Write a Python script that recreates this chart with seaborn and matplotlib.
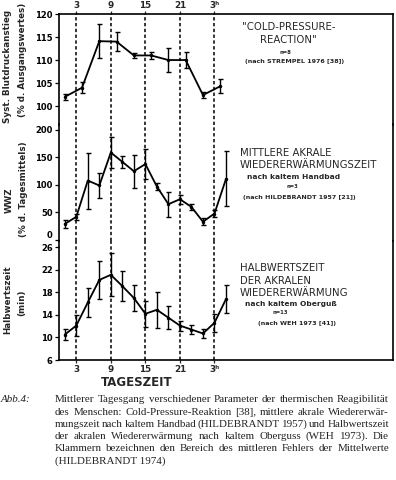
import matplotlib
matplotlib.use("Agg")
import matplotlib.pyplot as plt
import numpy as np
import pandas as pd
import seaborn as sns

# ---- data ----
hours_cpr = [1, 4, 7, 10, 13, 16, 19, 22, 25, 28]
cpr_mean = [102.0, 104.0, 114.1, 114.0, 111.0, 111.0, 110.0, 110.0, 102.4, 104.3]
cpr_err = [0.6, 1.2, 3.7, 2.0, 0.6, 0.8, 2.7, 1.7, 0.6, 1.5]

hours_wwz = [1, 3, 5, 7, 9, 11, 13, 15, 17, 19, 21, 23, 25, 27, 29]
wwz_mean = [29, 42, 108, 99, 159, 142, 125, 138, 97, 65, 74, 60, 33, 48, 111]
wwz_err = [8, 6, 51, 22, 28, 11, 30, 28, 7, 23, 8, 6, 6, 7, 50]

hours_hwz = [1, 3, 5, 7, 9, 11, 13, 15, 17, 19, 21, 23, 25, 27, 29]
hwz_mean = [10.5, 12.1, 16.2, 20.2, 21.1, 19.1, 17.0, 14.2, 14.9, 13.5, 12.1, 11.4, 10.7, 12.6, 16.8]
hwz_err = [1.0, 1.9, 2.6, 3.4, 3.8, 2.6, 2.35, 2.35, 3.15, 2.05, 0.9, 0.8, 0.75, 1.55, 2.55]

day_ticks = [3, 9, 15, 21, 27]
day_labels = ["3", "9", "15", "21", "3\u02b0"]

caption_lines = [
    "Mittlerer Tagesgang verschiedener Parameter der thermischen Reagibilität",
    "des Menschen: Cold-Pressure-Reaktion [38], mittlere akrale Wiedererwär-",
    "mungszeit nach kaltem Handbad (HILDEBRANDT 1957) und Halbwertszeit",
    "der akralen Wiedererwärmung nach kaltem Oberguss (WEH 1973). Die",
    "Klammern bezeichnen den Bereich des mittleren Fehlers der Mittelwerte",
    "(HILDEBRANDT 1974)",
]

W, H = 396, 480
sns.set_style("ticks")
plt.rcParams["font.family"] = ["DejaVu Sans"]

fig = plt.figure(figsize=(W / 100, H / 100), dpi=100)


def fx(px):
    return px / W


def fy(py):
    return 1 - py / H


def panel(top_px, bottom_px):
    return fig.add_axes([fx(59), fy(bottom_px), fx(393 - 59), (bottom_px - top_px) / H])


ax1 = panel(14, 124.5)
ax2 = panel(124.5, 241)
ax3 = panel(241, 360)

panels = [
    (ax1, hours_cpr, cpr_mean, cpr_err, (96, 120), [100, 105, 110, 115, 120]),
    (ax2, hours_wwz, wwz_mean, wwz_err, (-2, 210), [0, 50, 100, 150, 200]),
    (ax3, hours_hwz, hwz_mean, hwz_err, (6, 27.1), [6, 10, 14, 18, 22, 26]),
]

for ax, hrs, mean, err, ylim, yticks in panels:
    df = pd.DataFrame({"hour": hrs, "value": mean})
    for xv in day_ticks:
        ax.axvline(xv, color="black", lw=1.1, ls=(0, (2.2, 1.6)), zorder=1)
    sns.lineplot(data=df, x="hour", y="value", ax=ax, color="black", lw=1.3,
                 marker="o", markersize=2.5, markeredgewidth=0, zorder=3)
    ax.errorbar(hrs, mean, yerr=err, fmt="none", ecolor="black", elinewidth=1.0,
                capsize=1.8, capthick=1.0, zorder=3)
    ax.set_xlim(0, 58)
    ax.set_ylim(*ylim)
    ax.set_yticks(yticks)
    ax.set_xlabel("")
    ax.set_ylabel("")
    ax.set_facecolor("none")
    for s in ax.spines.values():
        s.set_linewidth(1.2)
        s.set_color("black")
    ax.spines["top"].set_visible(False)
    ax.spines["bottom"].set_visible(False)
    ax.tick_params(axis="y", direction="out", length=3, width=0.9, pad=1.5,
                   labelsize=6, colors="black")
    ax.tick_params(axis="x", bottom=False, top=False, labelbottom=False, labeltop=False)
    for lab in ax.get_yticklabels():
        lab.set_fontweight("bold")

ax1.spines["top"].set_visible(True)
ax3.spines["bottom"].set_visible(True)

# keep the "0" of the middle panel clear of the "26" below it
ax2.get_yticklabels()[0].set_va("bottom")

ax1.set_xticks(day_ticks, day_labels)
ax1.tick_params(axis="x", top=True, labeltop=True, direction="out", length=2,
                width=0.9, pad=1, labelsize=6.3)
ax3.set_xticks(day_ticks, day_labels)
ax3.tick_params(axis="x", bottom=True, labelbottom=True, direction="out", length=2,
                width=0.9, pad=1.5, labelsize=6.3)
for lab in ax1.get_xticklabels() + ax3.get_xticklabels():
    lab.set_fontweight("bold")

fig.text(fx(137), fy(382), "TAGESZEIT", ha="center", va="center",
         fontsize=8.5, fontweight="bold")

# y axis labels
lab_kw = dict(rotation=90, ha="center", va="center", fontsize=6.3, fontweight="bold")
fig.text(fx(8), fy(66), "Syst. Blutdruckanstieg", **lab_kw)
fig.text(fx(23), fy(60), "(% d. Ausgangswertes)", **lab_kw)
fig.text(fx(9), fy(200), "WWZ", **lab_kw)
fig.text(fx(24), fy(189), "(% d. Tagesmittels)", **lab_kw)
fig.text(fx(8), fy(300), "Halbwertszeit", **lab_kw)
fig.text(fx(22), fy(303), "(min)", **lab_kw)

# panel annotations
big = dict(fontsize=7.3, va="center")
small = dict(fontsize=5.4, va="center", fontweight="bold")
tiny = dict(fontsize=4.6, va="center", fontweight="bold")

fig.text(fx(289), fy(27), '"COLD-PRESSURE-', ha="center", **big)
fig.text(fx(288), fy(40), 'REACTION"', ha="center", **big)
fig.text(fx(285), fy(53), "n=8", ha="center", fontsize=3.8, fontweight="bold", va="center")
fig.text(fx(295), fy(62), "(nach STREMPEL 1976 [38])", ha="center", **tiny)

fig.text(fx(240), fy(153), "MITTLERE AKRALE", ha="left", **big)
fig.text(fx(240), fy(165), "WIEDERERWÄRMUNGSZEIT", ha="left", **big)
fig.text(fx(247), fy(177), "nach kaltem Handbad", ha="left", **small)
fig.text(fx(292), fy(187), "n=3", ha="center", fontsize=3.8, fontweight="bold", va="center")
fig.text(fx(243), fy(197), "(nach HILDEBRANDT 1957 [21])", ha="left", **tiny)

fig.text(fx(240), fy(268), "HALBWERTSZEIT", ha="left", **big)
fig.text(fx(240), fy(281), "DER AKRALEN", ha="left", **big)
fig.text(fx(240), fy(293), "WIEDERERWÄRMUNG", ha="left", **big)
fig.text(fx(245), fy(304), "nach kaltem Oberguß", ha="left", **small)
fig.text(fx(280), fy(313), "n=13", ha="center", fontsize=3.8, fontweight="bold", va="center")
fig.text(fx(258), fy(323), "(nach WEH 1973 [41])", ha="left", **tiny)

# caption: size chosen so the first line fits the column, then justified line by line
x_left, x_right = 55, 389
renderer = fig.canvas.get_renderer()
serif = ["Liberation Serif", "DejaVu Serif"]
probe = fig.text(0, 0, caption_lines[0], fontsize=7, family=serif)
natural = probe.get_window_extent(renderer).width
probe.remove()
cap_size = 7 * (x_right - x_left) / natural * 0.985

cap_kw = dict(fontsize=cap_size, family=serif, va="center", color="#222222")
fig.text(fx(1), fy(400), "Abb.4:", style="italic", **cap_kw)
for i, line in enumerate(caption_lines):
    ypos = fy(400 + i * 12.2)
    if i == len(caption_lines) - 1:
        fig.text(fx(x_left), ypos, line, **cap_kw)
        continue
    words = line.split()
    arts = [fig.text(0, ypos, w, **cap_kw) for w in words]
    widths = [a.get_window_extent(renderer).width for a in arts]
    gap = (x_right - x_left - sum(widths)) / (len(words) - 1)
    xpos = x_left
    for a, wd in zip(arts, widths):
        a.set_x(fx(xpos))
        xpos += wd + gap

fig.savefig("out.png", dpi=100)
